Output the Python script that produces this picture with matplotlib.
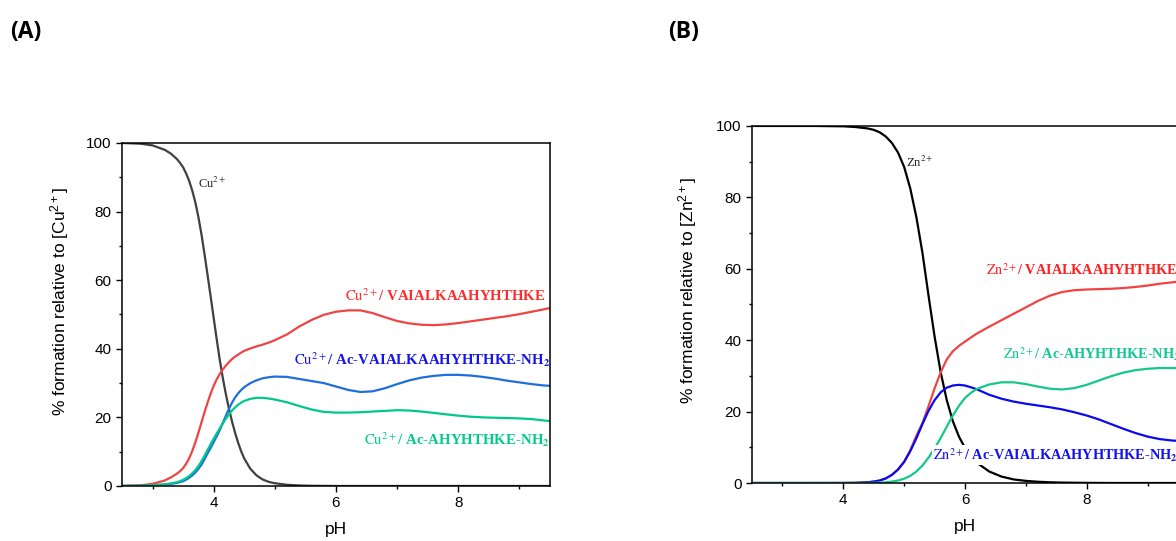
import numpy as np
import matplotlib
matplotlib.use("Agg")
import matplotlib.pyplot as plt
from matplotlib.ticker import MultipleLocator

plt.rcParams['font.family'] = ['Liberation Sans', 'DejaVu Sans']
plt.rcParams['mathtext.fontset'] = 'custom'
plt.rcParams['mathtext.rm'] = 'Liberation Sans'
plt.rcParams['mathtext.it'] = 'Liberation Sans:italic'
plt.rcParams['mathtext.bf'] = 'Liberation Sans:bold'

# ---- Cu(II) speciation ----
ph_cu = [2.5, 2.8, 3.0, 3.2, 3.3, 3.4, 3.45, 3.5, 3.55, 3.6, 3.65, 3.7, 3.75,
         3.8, 3.85, 3.9, 3.95, 4.0, 4.05, 4.1, 4.15, 4.2, 4.25, 4.3, 4.35, 4.4,
         4.45, 4.5, 4.6, 4.7, 4.8, 4.9, 5.0, 5.2, 5.4, 5.6, 5.8, 6.0, 6.2, 6.4,
         6.6, 6.8, 7.0, 7.2, 7.4, 7.6, 7.8, 8.0, 8.2, 8.4, 8.6, 8.8, 9.0, 9.2,
         9.4, 9.5]
cu_free = [100, 99.8, 99.3, 98.0, 96.9, 95.3, 94.2, 92.9, 91.1, 88.9, 86.1, 82.7,
           78.4, 73.4, 67.6, 61.5, 55.3, 49.0, 42.7, 36.7, 31.4, 26.7, 22.5, 18.8,
           15.5, 12.6, 10.1, 8.0, 5.0, 3.1, 1.9, 1.2, 0.8, 0.35, 0.15, 0.06, 0.03,
           0, 0, 0, 0, 0, 0, 0, 0, 0, 0, 0, 0, 0, 0, 0, 0, 0, 0, 0]
cu_vaia = [0.05, 0.2, 0.6, 1.6, 2.5, 3.6, 4.3, 5.2, 6.5, 8.1, 10.2, 12.7, 15.5,
           18.5, 21.5, 24.3, 26.9, 29.2, 31.1, 32.7, 34.0, 35.1, 36.1, 37.0, 37.7,
           38.3, 38.9, 39.4, 40.1, 40.7, 41.2, 41.8, 42.5, 44.2, 46.5, 48.4, 49.9,
           50.8, 51.2, 51.2, 50.4, 49.2, 48.1, 47.4, 47.0, 46.9, 47.1, 47.5, 48.0,
           48.5, 49.0, 49.5, 50.1, 50.8, 51.5, 51.9]
cu_ac_vaia = [0.0, 0.05, 0.15, 0.4, 0.6, 0.9, 1.15, 1.4, 1.85, 2.4, 3.1, 3.9, 5.0,
              6.2, 7.8, 9.5, 11.1, 12.8, 14.5, 16.3, 18.4, 20.5, 22.5, 24.3, 25.8,
              27.0, 28.0, 28.8, 30.0, 30.8, 31.4, 31.7, 31.9, 31.8, 31.2, 30.6,
              30.0, 29.0, 28.0, 27.4, 27.6, 28.5, 29.7, 30.8, 31.6, 32.1, 32.4,
              32.4, 32.2, 31.8, 31.3, 30.7, 30.2, 29.7, 29.3, 29.2]
cu_ac_ahyh = [0.0, 0.05, 0.2, 0.5, 0.75, 1.1, 1.4, 1.8, 2.3, 2.9, 3.7, 4.6, 5.8,
              7.2, 8.8, 10.5, 12.2, 13.8, 15.3, 16.8, 18.3, 19.6, 20.9, 22.0, 22.9,
              23.7, 24.3, 24.8, 25.4, 25.7, 25.7, 25.5, 25.2, 24.4, 23.3, 22.3,
              21.6, 21.4, 21.4, 21.5, 21.7, 21.9, 22.1, 22.0, 21.7, 21.3, 20.9,
              20.5, 20.2, 20.0, 19.9, 19.8, 19.7, 19.5, 19.1, 18.9]

# ---- Zn(II) speciation ----
ph_zn = [2.5, 3.0, 3.5, 4.0, 4.2, 4.4, 4.5, 4.6, 4.7, 4.8, 4.9, 5.0, 5.1, 5.2,
         5.3, 5.4, 5.5, 5.6, 5.7, 5.8, 5.9, 6.0, 6.1, 6.2, 6.4, 6.6, 6.8, 7.0,
         7.2, 7.4, 7.6, 7.8, 8.0, 8.2, 8.4, 8.6, 8.8, 9.0, 9.2, 9.4, 9.5]
zn_free = [100, 100, 100, 99.9, 99.7, 99.3, 98.9, 98.2, 97.0, 95.2, 92.5, 88.5,
           82.5, 74.5, 64.5, 52.5, 41.0, 31.0, 23.2, 17.3, 13.0, 9.8, 7.4, 5.6,
           3.2, 1.8, 1.0, 0.6, 0.35, 0.2, 0.12, 0.07, 0.04, 0.02, 0, 0, 0, 0,
           0, 0, 0]
zn_vaia = [0, 0, 0, 0, 0.05, 0.2, 0.4, 0.7, 1.3, 2.3, 3.8, 6.0, 9.2, 13.2, 16.8,
           21.5, 26.5, 31.0, 34.6, 36.9, 38.4, 39.6, 40.8, 41.9, 43.8, 45.6, 47.4,
           49.2, 51.0, 52.5, 53.5, 54.0, 54.2, 54.3, 54.4, 54.6, 54.9, 55.3, 55.8,
           56.2, 56.4]
zn_ac_vaia = [0, 0, 0, 0.02, 0.05, 0.2, 0.4, 0.7, 1.3, 2.3, 3.8, 5.9, 8.9, 12.5,
              16.5, 20.2, 23.2, 25.4, 26.7, 27.3, 27.5, 27.3, 26.8, 26.2, 24.7,
              23.6, 22.8, 22.2, 21.7, 21.2, 20.6, 19.8, 18.9, 17.8, 16.5, 15.2,
              14.0, 13.0, 12.3, 11.9, 11.8]
zn_ac_ahyh = [0, 0, 0, 0, 0, 0.02, 0.05, 0.1, 0.2, 0.4, 0.7, 1.2, 2.0, 3.2, 4.9,
              7.1, 9.7, 12.6, 15.8, 18.9, 21.6, 23.8, 25.3, 26.4, 27.6, 28.2,
              28.2, 27.7, 27.0, 26.4, 26.2, 26.6, 27.5, 28.7, 29.9, 30.9, 31.6,
              32.0, 32.2, 32.2, 32.2]


def style_axes(ax, ion, label_x):
    ax.set_xlim(2.5, 9.5)
    ax.set_ylim(0, 100)
    ax.xaxis.set_major_locator(MultipleLocator(2))
    ax.xaxis.set_minor_locator(MultipleLocator(1))
    ax.yaxis.set_major_locator(MultipleLocator(20))
    ax.yaxis.set_minor_locator(MultipleLocator(10))
    ax.tick_params(which='major', direction='out', length=4, width=1,
                   labelsize=11, top=False, right=False)
    ax.tick_params(which='minor', direction='out', length=2.5, width=1,
                   top=False, right=False)
    for s in ax.spines.values():
        s.set_linewidth(1.1)
    ax.set_xlabel('pH', fontsize=12.5, labelpad=8)
    ax.set_ylabel('% formation relative to [' + ion + '$^{2+}$]',
                  fontsize=12.5)
    ax.yaxis.set_label_coords(label_x, 0.538)


def species(ax, x, y, ion, rest, color, sub=False, size=10.7, **kw):
    txt = r'$\mathrm{' + ion + r'}^{2+}$/ ' + rest
    if sub:
        txt += r'$_\mathbf{2}$'
    ax.text(x, y, txt, color=color, fontsize=size, fontweight='bold',
            family='Liberation Serif', math_fontfamily='stix', **kw)


fig = plt.figure(figsize=(11.76, 5.41), dpi=100)

# panel A - copper
ax1 = fig.add_axes([0.1037, 0.1017, 0.364, 0.634])
ax1.plot(ph_cu, cu_free, color='#404040', lw=1.6)
ax1.plot(ph_cu, cu_vaia, color='#f04444', lw=1.6)
ax1.plot(ph_cu, cu_ac_vaia, color='#1e6edc', lw=1.6)
ax1.plot(ph_cu, cu_ac_ahyh, color='#00c88c', lw=1.6)
style_axes(ax1, 'Cu', -0.120)
ax1.text(3.75, 88.3, r'Cu$^{2+}$', fontsize=9, family='Liberation Serif',
         math_fontfamily='stix', va='center', color='#202020')
species(ax1, 9.43, 55.4, 'Cu', 'VAIALKAAHYHTHKE', '#ff2b2b',
        ha='right', va='center')
species(ax1, 9.5, 36.7, 'Cu', 'Ac-VAIALKAAHYHTHKE-NH', '#1414f0', sub=True,
        ha='right', va='center')
species(ax1, 9.5, 13.4, 'Cu', 'Ac-AHYHTHKE-NH', '#00cc88', sub=True,
        ha='right', va='center')

# panel B - zinc (labels run past the right edge of the figure)
ax2 = fig.add_axes([0.6395, 0.1072, 0.3622, 0.66])
ax2.plot(ph_zn, zn_free, color='black', lw=1.6)
ax2.plot(ph_zn, zn_vaia, color='#f04444', lw=1.6)
ax2.plot(ph_zn, zn_ac_vaia, color='#0a0aee', lw=1.6)
ax2.plot(ph_zn, zn_ac_ahyh, color='#14c88c', lw=1.6)
style_axes(ax2, 'Zn', -0.1256)
ax2.text(5.03, 89.9, r'Zn$^{2+}$', fontsize=9, family='Liberation Serif',
         math_fontfamily='stix', va='center', color='#202020')
species(ax2, 6.34, 59.7, 'Zn', 'VAIALKAAHYHTHKE', '#ff2020', size=10.3,
        va='center')
species(ax2, 6.62, 36.1, 'Zn', 'Ac-AHYHTHKE-NH', '#10c890', sub=True,
        size=10.3, va='center')
species(ax2, 5.48, 7.8, 'Zn', 'Ac-VAIALKAAHYHTHKE-NH', '#1010f0', sub=True,
        size=10.3, va='center',
        bbox=dict(facecolor='white', edgecolor='none', pad=1))

fig.text(0.009, 0.940, '(A)', fontsize=16.5, fontweight='bold',
         family='Open Sans', va='center')
fig.text(0.568, 0.940, '(B)', fontsize=16.5, fontweight='bold',
         family='Open Sans', va='center')

fig.savefig('out.png', dpi=100)
